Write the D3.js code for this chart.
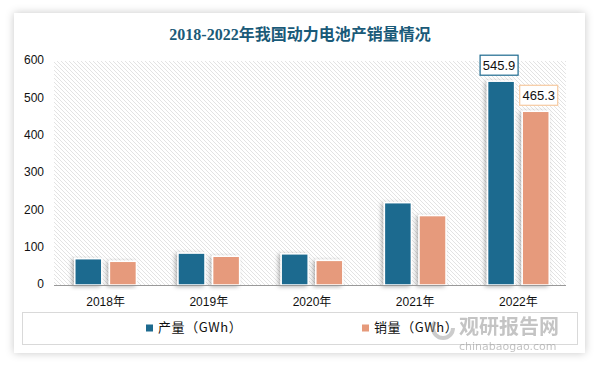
<!DOCTYPE html>
<html>
<head>
<meta charset="utf-8">
<script src="https://cdn.jsdelivr.net/npm/d3@7"></script>
<style>
  html, body { margin: 0; padding: 0; background: #fff; }
  svg { display: block; }
</style>
</head>
<body>
<div id="chart"></div>
<script>
const years = ["2018年", "2019年", "2020年", "2021年", "2022年"];
const production = [70.5, 85.5, 83.5, 220.5, 545.9];
const sales = [63.5, 77, 66, 186, 465.3];
const seriesNames = ["产量（GWh）", "销量（GWh）"];
const colors = ["#1d6a8f", "#e69a7b"];
const yTicks = [0, 100, 200, 300, 400, 500, 600];

const width = 600, height = 365;
const margin = { top: 61, right: 32, bottom: 80, left: 54 };

const svg = d3.select("#chart")
  .append("svg")
  .attr("width", width)
  .attr("height", height);

const defs = svg.append("defs");

const cardShadow = defs.append("filter")
  .attr("id", "card-shadow")
  .attr("x", "-10%").attr("y", "-10%")
  .attr("width", "120%").attr("height", "120%");
cardShadow.append("feDropShadow")
  .attr("dx", 0).attr("dy", 0)
  .attr("stdDeviation", 4)
  .attr("flood-color", "#000")
  .attr("flood-opacity", 0.22);

const barShadow = defs.append("filter")
  .attr("id", "bar-shadow")
  .attr("x", "-30%").attr("y", "-10%")
  .attr("width", "160%").attr("height", "130%");
barShadow.append("feDropShadow")
  .attr("dx", -2).attr("dy", 1)
  .attr("stdDeviation", 2)
  .attr("flood-color", "#000")
  .attr("flood-opacity", 0.3);

const hatch = defs.append("pattern")
  .attr("id", "hatch")
  .attr("patternUnits", "userSpaceOnUse")
  .attr("width", 4)
  .attr("height", 4);
hatch.append("rect").attr("width", 4).attr("height", 4).attr("fill", "#fff");
hatch.append("path")
  .attr("d", "M-1,-1 L5,5 M-1,3 L1,5 M3,-1 L5,1")
  .attr("stroke", "#dcdcdc")
  .attr("stroke-width", 0.8);

// card
svg.append("rect")
  .attr("x", 14).attr("y", 13)
  .attr("width", 571).attr("height", 340)
  .attr("fill", "#fff")
  .attr("filter", "url(#card-shadow)");

svg.append("text")
  .attr("x", 300)
  .attr("y", 36)
  .attr("text-anchor", "middle")
  .attr("dominant-baseline", "middle")
  .attr("fill", "#1a5a78")
  .style("font-family", "'Liberation Serif', 'Noto Sans CJK SC', serif")
  .style("font-size", "16px")
  .style("font-weight", "bold")
  .text("2018-2022年我国动力电池产销量情况");

const innerW = 570 - margin.left;
const plotBottom = 285;

const x0 = d3.scaleBand()
  .domain(years)
  .range([margin.left, margin.left + innerW])
  .paddingInner(0)
  .paddingOuter(0);

const x1 = d3.scaleBand()
  .domain([0, 1])
  .range([0, x0.bandwidth()])
  .paddingInner(0.22)
  .paddingOuter(0.6);

const y = d3.scaleLinear()
  .domain([0, 600])
  .range([plotBottom, margin.top]);

// hatched plot background
svg.append("rect")
  .attr("x", margin.left)
  .attr("y", y(600))
  .attr("width", 512)
  .attr("height", y(0) - y(600))
  .attr("fill", "url(#hatch)");

// y axis labels
svg.append("g")
  .selectAll("text")
  .data(yTicks)
  .join("text")
  .attr("x", 44)
  .attr("y", (d) => y(d))
  .attr("text-anchor", "end")
  .attr("dominant-baseline", "middle")
  .attr("fill", "#111")
  .style("font-family", "'Liberation Sans', Arial, sans-serif")
  .style("font-size", "12px")
  .text((d) => d);

// bars
const rows = years.map((yr, i) => ({ year: yr, values: [production[i], sales[i]] }));

const groups = svg.append("g")
  .selectAll("g")
  .data(rows)
  .join("g")
  .attr("transform", (d) => `translate(${x0(d.year)},0)`);

groups.selectAll("rect")
  .data((d) => d.values.map((v, k) => ({ k, v })))
  .join("rect")
  .attr("x", (d) => x1(d.k))
  .attr("y", (d) => y(d.v))
  .attr("width", x1.bandwidth())
  .attr("height", (d) => y(0) - y(d.v))
  .attr("fill", (d) => colors[d.k])
  .attr("stroke", "#fff")
  .attr("stroke-width", 1.5)
  .attr("filter", "url(#bar-shadow)");

// x axis line
svg.append("line")
  .attr("x1", margin.left)
  .attr("x2", 566)
  .attr("y1", y(0) + 0.5)
  .attr("y2", y(0) + 0.5)
  .attr("stroke", "#999")
  .attr("stroke-width", 1);

// x labels
svg.append("g")
  .selectAll("text")
  .data(years)
  .join("text")
  .attr("x", (d) => x0(d) + x0.bandwidth() / 2)
  .attr("y", 303)
  .attr("text-anchor", "middle")
  .attr("dominant-baseline", "middle")
  .attr("fill", "#111")
  .style("font-family", "'Liberation Sans', 'Noto Sans CJK SC', sans-serif")
  .style("font-size", "12px")
  .text((d) => d);

// value labels for last year
const last = rows[rows.length - 1];
const labelStroke = ["#1d6a8f", "#f6c9a0"];
last.values.forEach((v, k) => {
  const cx = x0(last.year) + x1(k) + x1.bandwidth() / 2;
  const cy = y(v) - 16;
  const g = svg.append("g");
  const w = 38, h = 20;
  g.append("rect")
    .attr("x", cx - w / 2 - (k === 0 ? 2 : -3))
    .attr("y", cy - h / 2)
    .attr("width", w)
    .attr("height", h)
    .attr("fill", "#fff")
    .attr("stroke", labelStroke[k])
    .attr("stroke-width", 1.2);
  g.append("text")
    .attr("x", cx - (k === 0 ? 2 : -3))
    .attr("y", cy + 1)
    .attr("text-anchor", "middle")
    .attr("dominant-baseline", "middle")
    .attr("fill", "#111")
    .style("font-family", "'Liberation Sans', Arial, sans-serif")
    .style("font-size", "13px")
    .text(v.toFixed(1));
});

// legend
svg.append("rect")
  .attr("x", 22.5)
  .attr("y", 312.5)
  .attr("width", 555)
  .attr("height", 32)
  .attr("fill", "none")
  .attr("stroke", "#d9d9d9");

const legendX = [146, 362];
const legend = svg.append("g")
  .selectAll("g")
  .data(seriesNames)
  .join("g")
  .attr("transform", (d, i) => `translate(${legendX[i]},328)`);

legend.append("rect")
  .attr("x", 0).attr("y", -3.5)
  .attr("width", 7).attr("height", 7)
  .attr("fill", (d, i) => colors[i]);

legend.append("text")
  .attr("x", 12)
  .attr("y", 0)
  .attr("dominant-baseline", "middle")
  .attr("fill", "#111")
  .style("font-family", "'Noto Sans CJK SC', sans-serif")
  .style("font-size", "13px")
  .style("letter-spacing", "0.6px")
  .text((d) => d);

// watermark
const wm = svg.append("g").attr("opacity", 0.5);
wm.append("circle")
  .attr("cx", 443).attr("cy", 328)
  .attr("r", 10)
  .attr("fill", "none")
  .attr("stroke", "#9a9a9a")
  .attr("stroke-width", 4)
  .attr("stroke-dasharray", "38 26");
wm.append("text")
  .attr("x", 459).attr("y", 334)
  .attr("fill", "#8a8a8a")
  .style("font-family", "'Noto Sans CJK SC', sans-serif")
  .style("font-size", "20px")
  .style("font-weight", "bold")
  .text("观研报告网");
wm.append("text")
  .attr("x", 459).attr("y", 350)
  .attr("fill", "#8a8a8a")
  .style("font-family", "'DejaVu Sans', sans-serif")
  .style("font-size", "11px")
  .text("chinabaogao.com");
</script>
</body>
</html>
